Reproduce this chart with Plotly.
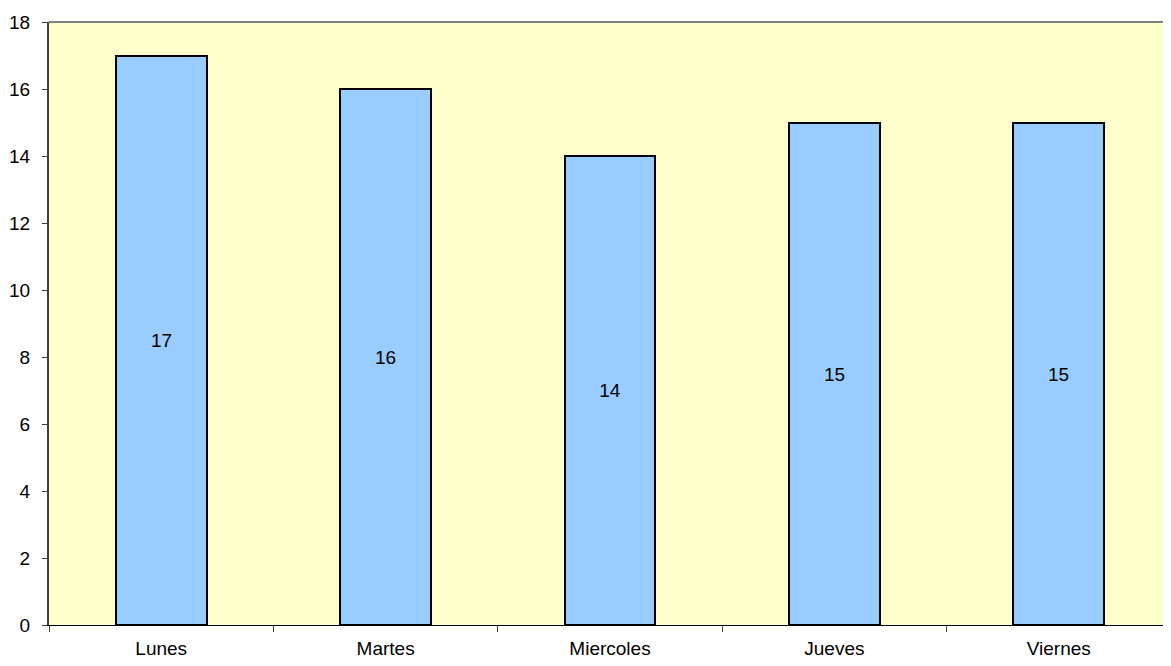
import plotly.graph_objects as go

dias = ["Lunes", "Martes", "Miercoles", "Jueves", "Viernes"]
valores = [17, 16, 14, 15, 15]
y_ticks = [0, 2, 4, 6, 8, 10, 12, 14, 16, 18]

FONT = "Liberation Sans, Arial"

fig = go.Figure(go.Bar(
    x=dias, y=valores,
    text=[str(v) for v in valores],
    textposition="inside", insidetextanchor="middle",
    textfont=dict(family=FONT, size=19, color="black"),
    marker=dict(color="#99CCFF", line=dict(color="black", width=2)),
    width=0.405,
))

# page has an 8px body margin, so compensate
fig.update_layout(
    width=1163, height=658,
    margin=dict(l=41, r=0, t=14, b=41, pad=0),
    plot_bgcolor="#FFFFCC", paper_bgcolor="white",
    font=dict(family=FONT, size=19, color="black"),
    showlegend=False,
    bargap=0,
    uniformtext=dict(minsize=19, mode="show"),
)
fig.update_xaxes(
    showline=True, linecolor="black", linewidth=1,
    ticks="outside", tickson="boundaries", ticklen=6, tickcolor="#404040",
    showgrid=False, tickfont=dict(size=19), ticklabelstandoff=6,
)
fig.update_yaxes(
    range=[0, 18], tickvals=y_ticks,
    showline=True, linecolor="#404040", linewidth=2,
    ticks="outside", ticklen=5, tickcolor="#404040",
    showgrid=False, zeroline=False, tickfont=dict(size=19), ticklabelstandoff=8,
)
fig.add_shape(type="line", xref="paper", yref="paper", x0=0, x1=1, y0=1, y1=1,
              line=dict(color="#808080", width=2))

fig.write_html("out.html")
